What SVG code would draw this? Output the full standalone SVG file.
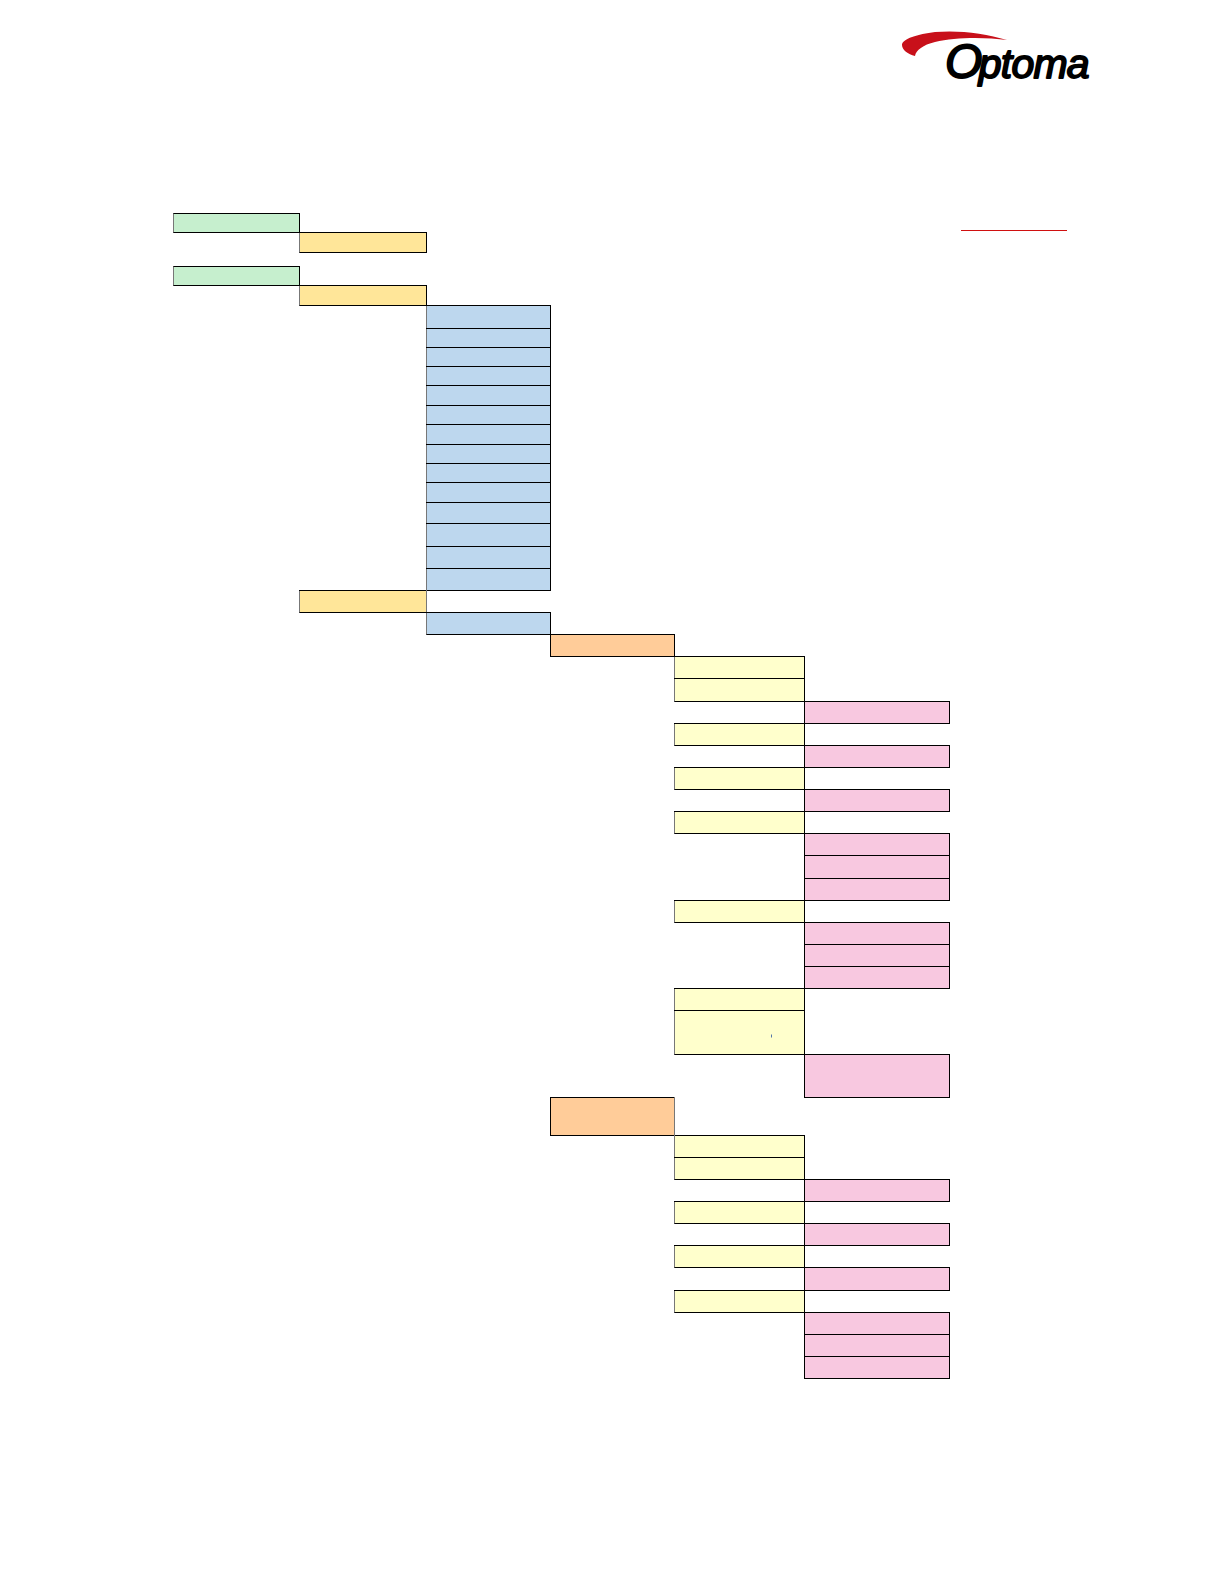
<svg xmlns="http://www.w3.org/2000/svg" width="1224" height="1584" viewBox="0 0 1224 1584">
<style>
rect{stroke:#000;stroke-width:1}
.l{stroke:#777;stroke-width:1}
.g{fill:#C6EFCE}.y{fill:#FFE699}.b{fill:#BDD7EE}.o{fill:#FFCC99}.m{fill:#FFFFCC}.p{fill:#F8C8E0}
</style>
<rect width="1224" height="1584" style="fill:#fff;stroke:none"/>
<g id="logo">
<path d="M1007 40C985 33 958 30 935 32C918 34 902 39 902 45C902 50 908 54 915 56C916 50 923 45 935 42C955 37 985 37 1007 40Z" fill="#C8101A"/>
<text x="945" y="78" font-family="'Liberation Sans',sans-serif" font-style="italic" stroke="#000" stroke-width="1.8" stroke-linejoin="round" fill="#000"><tspan font-size="48">O</tspan><tspan font-size="41" dx="-3.5" letter-spacing="-0.8">ptoma</tspan></text>
</g>
<g id="connectors">
<line x1="961" y1="230.5" x2="1067" y2="230.5" stroke="#D01010" stroke-width="1"/>
</g>
<g id="n1"><rect class="g" x="173.5" y="213.5" width="126" height="19"/><line class="l" x1="173.5" y1="213.5" x2="173.5" y2="232.5"/></g>
<g id="n2"><rect class="g" x="173.5" y="266.5" width="126" height="19"/><line class="l" x1="173.5" y1="266.5" x2="173.5" y2="285.5"/></g>
<g id="n3"><rect class="y" x="299.5" y="232.5" width="127" height="20"/><line class="l" x1="299.5" y1="233" x2="299.5" y2="252.5"/></g>
<g id="n4"><rect class="y" x="299.5" y="285.5" width="127" height="20"/><line class="l" x1="299.5" y1="286" x2="299.5" y2="305.5"/></g>
<g id="n5"><rect class="y" x="299.5" y="590.5" width="127" height="22"/><line class="l" x1="299.5" y1="591" x2="299.5" y2="612.5"/></g>
<g id="n6"><rect class="b" x="426.5" y="305.5" width="124" height="23"/><line class="l" x1="426.5" y1="306" x2="426.5" y2="328.5"/></g>
<g id="n7"><rect class="b" x="426.5" y="328.5" width="124" height="19"/><line class="l" x1="426.5" y1="329" x2="426.5" y2="347.5"/></g>
<g id="n8"><rect class="b" x="426.5" y="347.5" width="124" height="19"/><line class="l" x1="426.5" y1="348" x2="426.5" y2="366.5"/></g>
<g id="n9"><rect class="b" x="426.5" y="366.5" width="124" height="19"/><line class="l" x1="426.5" y1="367" x2="426.5" y2="385.5"/></g>
<g id="n10"><rect class="b" x="426.5" y="385.5" width="124" height="20"/><line class="l" x1="426.5" y1="386" x2="426.5" y2="405.5"/></g>
<g id="n11"><rect class="b" x="426.5" y="405.5" width="124" height="19"/><line class="l" x1="426.5" y1="406" x2="426.5" y2="424.5"/></g>
<g id="n12"><rect class="b" x="426.5" y="424.5" width="124" height="20"/><line class="l" x1="426.5" y1="425" x2="426.5" y2="444.5"/></g>
<g id="n13"><rect class="b" x="426.5" y="444.5" width="124" height="19"/><line class="l" x1="426.5" y1="445" x2="426.5" y2="463.5"/></g>
<g id="n14"><rect class="b" x="426.5" y="463.5" width="124" height="19"/><line class="l" x1="426.5" y1="464" x2="426.5" y2="482.5"/></g>
<g id="n15"><rect class="b" x="426.5" y="482.5" width="124" height="20"/><line class="l" x1="426.5" y1="483" x2="426.5" y2="502.5"/></g>
<g id="n16"><rect class="b" x="426.5" y="502.5" width="124" height="21"/><line class="l" x1="426.5" y1="503" x2="426.5" y2="523.5"/></g>
<g id="n17"><rect class="b" x="426.5" y="523.5" width="124" height="23"/><line class="l" x1="426.5" y1="524" x2="426.5" y2="546.5"/></g>
<g id="n18"><rect class="b" x="426.5" y="546.5" width="124" height="22"/><line class="l" x1="426.5" y1="547" x2="426.5" y2="568.5"/></g>
<g id="n19"><rect class="b" x="426.5" y="568.5" width="124" height="22"/><line class="l" x1="426.5" y1="569" x2="426.5" y2="612"/></g>
<g id="n20"><rect class="b" x="426.5" y="612.5" width="124" height="22"/><line class="l" x1="426.5" y1="613" x2="426.5" y2="634.5"/></g>
<g id="n21"><rect class="o" x="550.5" y="634.5" width="124" height="22"/></g>
<g id="n22"><rect class="o" x="550.5" y="1097.5" width="124" height="38"/></g>
<g id="n23"><rect class="m" x="674.5" y="656.5" width="130" height="22"/><line class="l" x1="674.5" y1="657" x2="674.5" y2="678.5"/></g>
<g id="n24"><rect class="m" x="674.5" y="678.5" width="130" height="23"/><line class="l" x1="674.5" y1="679" x2="674.5" y2="701.5"/></g>
<g id="n25"><rect class="m" x="674.5" y="723.5" width="130" height="22"/><line class="l" x1="674.5" y1="724" x2="674.5" y2="745.5"/></g>
<g id="n26"><rect class="m" x="674.5" y="767.5" width="130" height="22"/><line class="l" x1="674.5" y1="768" x2="674.5" y2="789.5"/></g>
<g id="n27"><rect class="m" x="674.5" y="811.5" width="130" height="22"/><line class="l" x1="674.5" y1="812" x2="674.5" y2="833.5"/></g>
<g id="n28"><rect class="m" x="674.5" y="900.5" width="130" height="22"/><line class="l" x1="674.5" y1="901" x2="674.5" y2="922.5"/></g>
<g id="n29"><rect class="m" x="674.5" y="988.5" width="130" height="22"/><line class="l" x1="674.5" y1="989" x2="674.5" y2="1010.5"/></g>
<g id="n30"><rect class="m" x="674.5" y="1010.5" width="130" height="44"/><line class="l" x1="674.5" y1="1011" x2="674.5" y2="1054.5"/><line x1="771.5" y1="1034.5" x2="771.5" y2="1037.5" stroke="#5577AA" stroke-width="1"/></g>
<g id="n31"><rect class="m" x="674.5" y="1135.5" width="130" height="22"/><line class="l" x1="674.5" y1="1097" x2="674.5" y2="1157.5"/></g>
<g id="n32"><rect class="m" x="674.5" y="1157.5" width="130" height="22"/><line class="l" x1="674.5" y1="1158" x2="674.5" y2="1179.5"/></g>
<g id="n33"><rect class="m" x="674.5" y="1201.5" width="130" height="22"/><line class="l" x1="674.5" y1="1202" x2="674.5" y2="1223.5"/></g>
<g id="n34"><rect class="m" x="674.5" y="1245.5" width="130" height="22"/><line class="l" x1="674.5" y1="1246" x2="674.5" y2="1267.5"/></g>
<g id="n35"><rect class="m" x="674.5" y="1290.5" width="130" height="22"/><line class="l" x1="674.5" y1="1291" x2="674.5" y2="1312.5"/></g>
<g id="n36"><rect class="p" x="804.5" y="701.5" width="145" height="22"/></g>
<g id="n37"><rect class="p" x="804.5" y="745.5" width="145" height="22"/></g>
<g id="n38"><rect class="p" x="804.5" y="789.5" width="145" height="22"/></g>
<g id="n39"><rect class="p" x="804.5" y="833.5" width="145" height="22"/></g>
<g id="n40"><rect class="p" x="804.5" y="855.5" width="145" height="23"/></g>
<g id="n41"><rect class="p" x="804.5" y="878.5" width="145" height="22"/></g>
<g id="n42"><rect class="p" x="804.5" y="922.5" width="145" height="22"/></g>
<g id="n43"><rect class="p" x="804.5" y="944.5" width="145" height="22"/></g>
<g id="n44"><rect class="p" x="804.5" y="966.5" width="145" height="22"/></g>
<g id="n45"><rect class="p" x="804.5" y="1054.5" width="145" height="43"/></g>
<g id="n46"><rect class="p" x="804.5" y="1179.5" width="145" height="22"/></g>
<g id="n47"><rect class="p" x="804.5" y="1223.5" width="145" height="22"/></g>
<g id="n48"><rect class="p" x="804.5" y="1267.5" width="145" height="23"/></g>
<g id="n49"><rect class="p" x="804.5" y="1312.5" width="145" height="22"/></g>
<g id="n50"><rect class="p" x="804.5" y="1334.5" width="145" height="22"/></g>
<g id="n51"><rect class="p" x="804.5" y="1356.5" width="145" height="22"/></g>
</svg>
